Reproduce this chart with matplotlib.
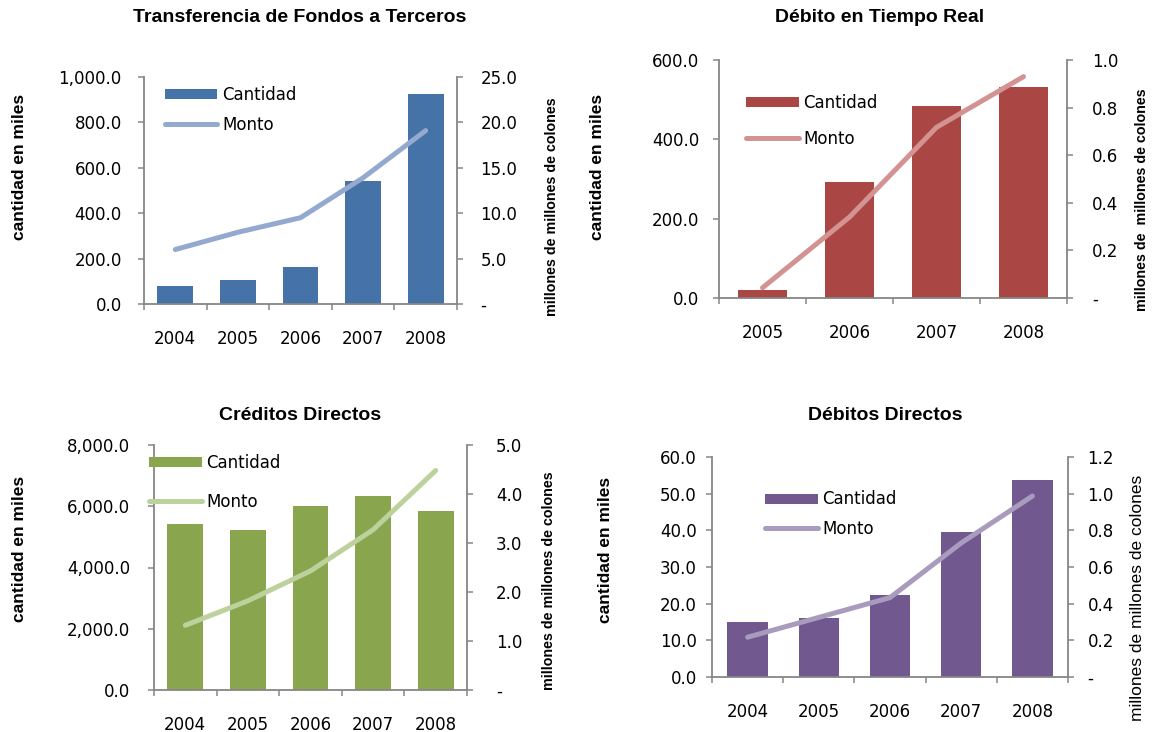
import numpy as np
import matplotlib
matplotlib.use("Agg")
import matplotlib.pyplot as plt
from matplotlib.ticker import FuncFormatter

W, H = 1154, 732

# ---------------- data ----------------
years_a = ["2004", "2005", "2006", "2007", "2008"]
years_b = ["2005", "2006", "2007", "2008"]

tft_cantidad = [80, 106, 163, 543, 927]
tft_monto = [6.0, 7.9, 9.5, 13.9, 19.1]

dtr_cantidad = [21, 292, 485, 532]
dtr_monto = [0.043, 0.34, 0.717, 0.93]

cd_cantidad = [5420, 5214, 6016, 6341, 5854]
cd_monto = [1.32, 1.82, 2.43, 3.27, 4.48]

dd_cantidad = [15.1, 16.0, 22.4, 39.5, 53.8]
dd_monto = [0.217, 0.325, 0.433, 0.731, 0.987]

titles = ["Transferencia de Fondos a Terceros", "Débito en Tiempo Real",
          "Créditos Directos", "Débitos Directos"]
left_label = "cantidad en miles"
right_labels = ["millones de millones de colones", "millones de  millones de colones",
                "millones de millones de colones", "millones de millones de colones"]
legend_labels = ["Cantidad", "Monto"]

GRAY = "#868686"
BOLDF = ["Liberation Sans", "DejaVu Sans"]
plt.rcParams["font.family"] = ["DejaVu Sans"]

fig = plt.figure(figsize=(W / 100, H / 100), dpi=100)


def fx(x):
    return x / W


def fy(y):
    return 1 - y / H


panels = [
    dict(cats=years_a, bars=tft_cantidad, line=tft_monto, bar_c="#4572A7", line_c="#93A9CF",
         box=(144, 77, 457, 304), ylim=(0, 1000), yt=np.arange(0, 1001, 200),
         y2lim=(0, 25), y2t=np.arange(0, 26, 5), lpad=12, rpad=13,
         title_xy=(300, 17), ll_xy=(20, 167), rl_xy=(552, 207), rl_bold=True, rl_fs=10.3,
         leg_xy=(165, 109.5), leg_sp=0.72),
    dict(cats=years_b, bars=dtr_cantidad, line=dtr_monto, bar_c="#AA4643", line_c="#D39392",
         box=(719, 60, 1067, 298), ylim=(0, 600), yt=np.arange(0, 601, 200),
         y2lim=(0, 1.0), y2t=np.arange(0, 1.01, 0.2), lpad=10, rpad=14,
         title_xy=(880, 17), ll_xy=(598, 167), rl_xy=(1142, 200), rl_bold=True, rl_fs=10.3,
         leg_xy=(746, 121), leg_sp=1.05),
    dict(cats=years_a, bars=cd_cantidad, line=cd_monto, bar_c="#89A54E", line_c="#BCD19C",
         box=(154, 445, 467, 690), ylim=(0, 8000), yt=np.arange(0, 8001, 2000),
         y2lim=(0, 5.0), y2t=np.arange(0, 5.01, 1.0), lpad=13, rpad=17,
         title_xy=(300, 416), ll_xy=(20, 549), rl_xy=(549, 581), rl_bold=True, rl_fs=10.3,
         leg_xy=(149, 482.5), leg_sp=1.25),
    dict(cats=years_a, bars=dd_cantidad, line=dd_monto, bar_c="#71588F", line_c="#A99BBD",
         box=(712, 457, 1068, 677), ylim=(0, 60), yt=np.arange(0, 61, 10),
         y2lim=(0, 1.2), y2t=np.arange(0, 1.21, 0.2), lpad=7, rpad=10,
         title_xy=(885, 416), ll_xy=(605, 550), rl_xy=(1137, 598), rl_bold=False, rl_fs=12.5,
         leg_xy=(765, 514), leg_sp=0.66),
]

for i, p in enumerate(panels):
    l, t, r, b = p["box"]
    ax = fig.add_axes([fx(l), fy(b), fx(r - l), (b - t) / H])
    n = len(p["cats"])
    x = np.arange(n)
    bars = ax.bar(x, p["bars"], width=0.57, color=p["bar_c"], zorder=2)
    ax.set_xlim(-0.5, n - 0.5)
    ax.set_ylim(*p["ylim"])
    ax.set_yticks(p["yt"])
    ax.yaxis.set_major_formatter(FuncFormatter(lambda v, pos: f"{v:,.1f}"))
    ax.set_xticks(np.arange(n + 1) - 0.5)
    ax.set_xticklabels([])
    ax.set_xticks(x, minor=True)
    ax.set_xticklabels(p["cats"], minor=True)
    ax.tick_params(axis="x", which="major", direction="out", length=4, width=1.1, color=GRAY)
    ax.tick_params(axis="x", which="minor", length=0, pad=18.5, labelsize=12)
    ax.tick_params(axis="y", direction="out", length=4, width=1.1, color=GRAY,
                   pad=p["lpad"], labelsize=12)
    for s in ["top", "right"]:
        ax.spines[s].set_visible(False)
    for s in ["left", "bottom"]:
        ax.spines[s].set_color(GRAY)
        ax.spines[s].set_linewidth(1.3)

    ax2 = ax.twinx()
    line, = ax2.plot(x, p["line"], color=p["line_c"], lw=3.6, solid_capstyle="round",
                     zorder=3)
    ax2.set_ylim(*p["y2lim"])
    ax2.set_yticks(p["y2t"])
    ax2.yaxis.set_major_formatter(
        FuncFormatter(lambda v, pos: "-" if abs(v) < 1e-9 else f"{v:.1f}"))
    ax2.tick_params(axis="y", direction="out", length=4, width=1.1, color=GRAY,
                    pad=p["rpad"], labelsize=12)
    for s in ["top", "left", "bottom"]:
        ax2.spines[s].set_visible(False)
    ax2.spines["right"].set_color(GRAY)
    ax2.spines["right"].set_linewidth(1.3)

    lx, ly = p["leg_xy"]
    ax2.legend([bars, line], legend_labels, loc="center left",
               bbox_to_anchor=(fx(lx), fy(ly)), bbox_transform=fig.transFigure,
               frameon=False, borderpad=0, borderaxespad=0, handlelength=3.15,
               handleheight=0.55, handletextpad=0.3, labelspacing=p["leg_sp"], fontsize=12)

    tx, ty = p["title_xy"]
    fig.text(fx(tx), fy(ty), titles[i], ha="center", va="center", fontsize=14,
             fontweight="bold", family=BOLDF)
    llx, lly = p["ll_xy"]
    fig.text(fx(llx), fy(lly), left_label, ha="center", va="center", rotation=90,
             fontsize=12.5, fontweight="bold", family=BOLDF)
    rlx, rly = p["rl_xy"]
    if p["rl_bold"]:
        fig.text(fx(rlx), fy(rly), right_labels[i], ha="center", va="center", rotation=90,
                 fontsize=p["rl_fs"], fontweight="bold", family=BOLDF)
    else:
        fig.text(fx(rlx), fy(rly), right_labels[i], ha="center", va="center", rotation=90,
                 fontsize=p["rl_fs"], family=BOLDF)

fig.savefig("out.png", dpi=100, facecolor="white")
